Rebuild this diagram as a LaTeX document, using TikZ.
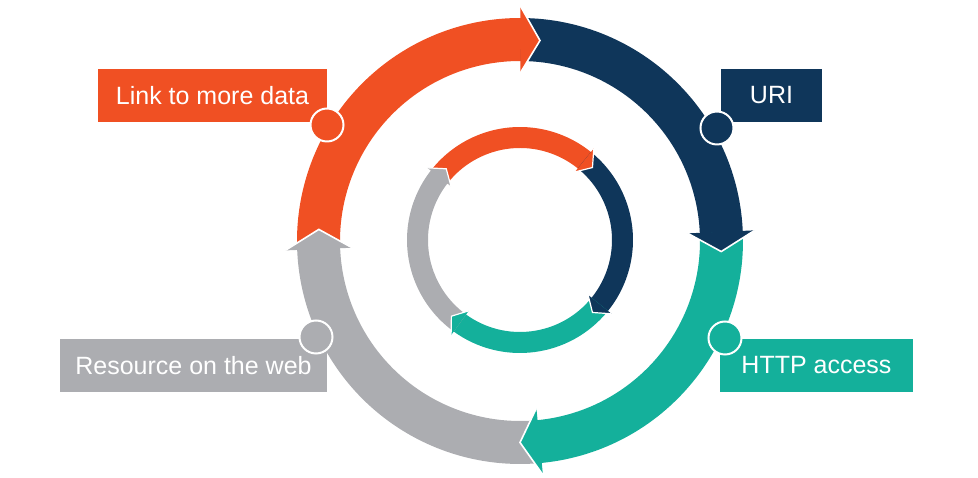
\documentclass[tikz,border=0pt]{standalone}
\usepackage{fontspec}
\setmainfont{Liberation Sans}
\definecolor{cor}{HTML}{F05023}
\definecolor{cnv}{HTML}{0F365A}
\definecolor{ctl}{HTML}{14B09B}
\definecolor{cgy}{HTML}{ACADB1}
\newcommand\ringseg[5]{%
  \fill[#1] (#4:#2pt) arc[start angle=#4, end angle=#5, radius=#2pt]
    -- (#5:#3pt) arc[start angle=#5, end angle=#4, radius=#3pt] -- cycle;}
\newcommand\arrhead[6]{%
  \fill[#1] (#4:{#2+#3}) -- (#5:#2) -- (#4:{#2-#3}) -- cycle;
  \draw[white, line width=#6, line join=miter] (#4:{#2+#3}) -- (#5:#2) -- (#4:{#2-#3});}
\begin{document}
\begin{tikzpicture}[x=1pt,y=1pt,
  box/.style={fill=#1, text=white, inner sep=0pt, minimum height=53pt,
    font=\fontsize{25}{29}\selectfont},
  dot/.style={circle, fill=#1, draw=white, line width=2pt, minimum size=33pt, inner sep=0pt}]
\useasboundingbox (-520,-237) rectangle (458,241);
% outer ring bands
\ringseg{cor}{180}{223}{182.1}{89.2}
\ringseg{cnv}{180}{223}{89.7}{1.9}
\ringseg{ctl}{180}{223}{2.4}{-85.1}
\ringseg{cgy}{180}{223}{-84.6}{-178.4}
% outer ring heads
\arrhead{cor}{201.5}{33.5}{89.9}{84.3}{1.6pt}
\arrhead{cnv}{201.5}{33.5}{2.6}{-3}{1.6pt}
\arrhead{ctl}{201.5}{33.5}{-84.4}{-90}{1.6pt}
\arrhead{cgy}{201.5}{33.5}{-177.7}{-183.3}{1.6pt}
% inner ring
\begin{scope}[yshift=1pt]
\ringseg{cor}{92}{113}{142.1}{50.6}
\ringseg{cnv}{92}{113}{51.1}{-39.4}
\ringseg{ctl}{92}{113}{-38.9}{-126.4}
\ringseg{cgy}{92}{113}{-125.9}{-218.4}
\arrhead{cor}{102.5}{15}{51.1}{45}{1.2pt}
\arrhead{cnv}{102.5}{15}{-38.9}{-45}{1.2pt}
\arrhead{ctl}{102.5}{15}{-125.9}{-132}{1.2pt}
\arrhead{cgy}{102.5}{15}{-217.9}{-224}{1.2pt}
\end{scope}
% labels
\node[box=cor, minimum width=229pt] (link) at (-307.5,145.5) {Link to more data};
\node[box=cnv, minimum width=101pt] (uri) at (251.5,145.5) {URI};
\node[box=ctl, minimum width=193pt] (http) at (296.5,-124.5) {HTTP access};
\node[box=cgy, minimum width=267pt] (res) at (-326.5,-124.5) {Resource on the web};
% circles
\node[dot=cor] (clink) at (-193,116) {};
\node[dot=cnv] (curi) at (197,113) {};
\node[dot=ctl] (chttp) at (205,-97) {};
\node[dot=cgy] (cres) at (-204,-96) {};
\end{tikzpicture}
\end{document}
